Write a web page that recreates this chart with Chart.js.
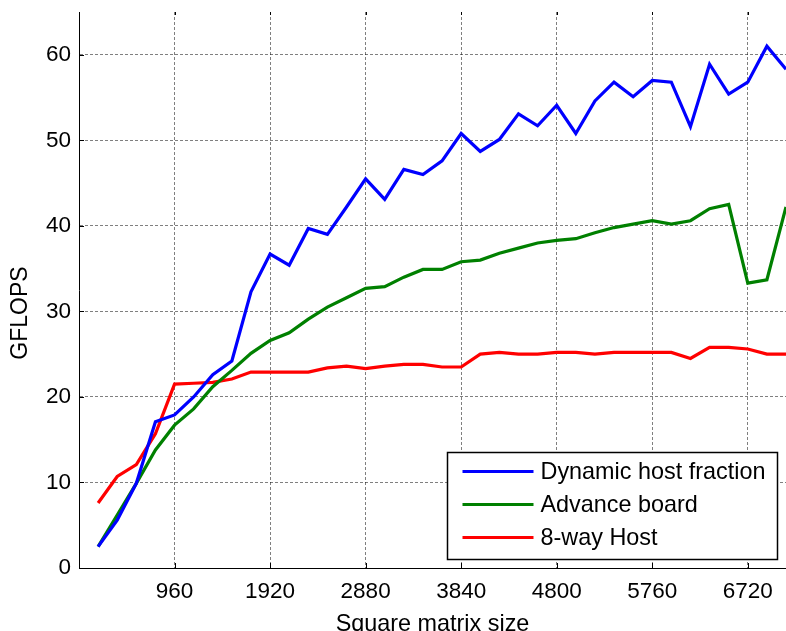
<!DOCTYPE html>
<html><head><meta charset="utf-8">
<script src="https://cdn.jsdelivr.net/npm/chart.js@4"></script>
<style>html,body{margin:0;padding:0;overflow:hidden;background:#fff;width:786px;height:631px}canvas{display:block}</style>
</head><body>
<canvas id="c" width="786" height="650"></canvas>
<script>
const matrixSizes = [192, 384, 576, 768, 960, 1152, 1344, 1536, 1728, 1920, 2112, 2304, 2496, 2688, 2880, 3072, 3264, 3456, 3648, 3840, 4032, 4224, 4416, 4608, 4800, 4992, 5184, 5376, 5568, 5760, 5952, 6144, 6336, 6528, 6720, 6912, 7104];
const dynamicHost = [2.5, 5.6, 9.9, 17.1, 17.9, 20.0, 22.6, 24.2, 32.3, 36.7, 35.4, 39.7, 39.0, 42.2, 45.5, 43.1, 46.6, 46.0, 47.6, 50.8, 48.7, 50.1, 53.1, 51.7, 54.1, 50.8, 54.6, 56.8, 55.1, 57.0, 56.8, 51.6, 58.9, 55.4, 56.8, 61.0, 58.3];
const advanceBoard = [2.5, 6.2, 9.9, 13.8, 16.7, 18.6, 21.2, 23.1, 25.1, 26.6, 27.5, 29.1, 30.5, 31.6, 32.7, 32.9, 34.0, 34.9, 34.9, 35.8, 36.0, 36.8, 37.4, 38.0, 38.3, 38.5, 39.2, 39.8, 40.2, 40.6, 40.2, 40.6, 42.0, 42.5, 33.3, 33.7, 42.2];
const eightWayHost = [7.6, 10.7, 12.1, 15.7, 21.5, 21.6, 21.7, 22.1, 22.9, 22.9, 22.9, 22.9, 23.4, 23.6, 23.3, 23.6, 23.8, 23.8, 23.5, 23.5, 25.0, 25.2, 25.0, 25.0, 25.2, 25.2, 25.0, 25.2, 25.2, 25.2, 25.2, 24.5, 25.8, 25.8, 25.6, 25.0, 25.0];
const xTicks = [960, 1920, 2880, 3840, 4800, 5760, 6720];
const yTicks = [0, 10, 20, 30, 40, 50, 60];
const seriesNames = ['Dynamic host fraction', 'Advance board', '8-way Host'];
const seriesColors = ['#0000ff', '#008000', '#ff0000'];
const xTitle = 'Square matrix size';
const yTitle = 'GFLOPS';

const FONT = "'Liberation Sans', Arial, Helvetica, sans-serif";
const toPoints = arr => matrixSizes.map((x, i) => ({x: x, y: arr[i]}));
const seriesValues = [dynamicHost, advanceBoard, eightWayHost];

const decorPlugin = {
  id: 'decor',
  afterDatasetsDraw(chart) {
    const ctx = chart.ctx;
    const ca = chart.chartArea;
    const xs = chart.scales.x, ys = chart.scales.y;
    ctx.save();
    // inward tick marks
    ctx.strokeStyle = '#000';
    ctx.lineWidth = 1;
    ctx.beginPath();
    yTicks.forEach(v => {
      const py = Math.round(ys.getPixelForValue(v)) + 0.5;
      ctx.moveTo(ca.left, py); ctx.lineTo(ca.left + 5, py);
    });
    xTicks.forEach(v => {
      const px = Math.round(xs.getPixelForValue(v)) + 0.5;
      ctx.moveTo(px, ca.bottom); ctx.lineTo(px, ca.bottom - 5);
      ctx.moveTo(px, ca.top); ctx.lineTo(px, ca.top + 3);
    });
    ctx.stroke();
    // y-axis title
    ctx.fillStyle = '#000';
    ctx.font = '23px ' + FONT;
    ctx.textAlign = 'center';
    ctx.textBaseline = 'middle';
    ctx.translate(20.5, (ca.top + ca.bottom) / 2 + 23);
    ctx.rotate(-Math.PI / 2);
    ctx.fillText(yTitle, 0, 0);
    ctx.restore();

    // legend box
    ctx.save();
    const w = 330, h = 107;
    const bx = Math.round(ca.right - 9 - w) + 0.5, by = Math.round(ca.bottom - 9 - h) + 0.5;
    ctx.fillStyle = '#fff';
    ctx.fillRect(bx, by, w, h);
    ctx.strokeStyle = '#000';
    ctx.lineWidth = 1.5;
    ctx.strokeRect(bx, by, w, h);
    ctx.font = '23.4px ' + FONT;
    ctx.textAlign = 'left';
    ctx.textBaseline = 'middle';
    chart.data.datasets.forEach((ds, i) => {
      const ry = by + 19 + i * 33;
      ctx.strokeStyle = ds.borderColor;
      ctx.lineWidth = 3;
      ctx.beginPath();
      ctx.moveTo(bx + 15, ry); ctx.lineTo(bx + 86, ry);
      ctx.stroke();
      ctx.fillStyle = '#000';
      ctx.fillText(ds.label, bx + 93, ry + 1);
    });
    ctx.restore();
  }
};

const noPad = s => { s.paddingTop = 0; s.paddingBottom = 0; s.paddingLeft = 0; s.paddingRight = 0; };

new Chart(document.getElementById('c'), {
  type: 'line',
  data: {
    datasets: seriesNames.map((name, i) => ({
      label: name,
      data: toPoints(seriesValues[i]),
      borderColor: seriesColors[i],
      backgroundColor: seriesColors[i],
      borderWidth: 3.2,
      pointRadius: 0,
      tension: 0,
      fill: false
    }))
  },
  options: {
    responsive: false,
    animation: false,
    devicePixelRatio: 1,
    layout: {padding: {top: 12, right: 0, left: 0, bottom: 0}},
    plugins: {legend: {display: false}, tooltip: {enabled: false}},
    scales: {
      x: {
        type: 'linear',
        min: 0, max: 7104,
        afterBuildTicks: s => { s.ticks = xTicks.map(v => ({value: v})); },
        afterFit: s => { s.height = 82; noPad(s); },
        ticks: {
          color: '#000', padding: 13, maxRotation: 0, autoSkip: false,
          font: {family: FONT, size: 22.5, lineHeight: 1},
          callback: v => String(v)
        },
        grid: {color: 'rgba(0,0,0,0.5)', drawTicks: false, lineWidth: 1},
        border: {display: true, color: '#000', width: 1, dash: [3, 2]},
        title: {display: true, text: xTitle, color: '#000', font: {family: FONT, size: 23.4, lineHeight: 1.2}, padding: {top: 0, bottom: 11}}
      },
      y: {
        min: 0, max: 65,
        afterBuildTicks: s => { s.ticks = yTicks.map(v => ({value: v})); },
        afterFit: s => { s.width = 79; noPad(s); },
        ticks: {
          color: '#000', padding: 8,
          font: {family: FONT, size: 22.5, lineHeight: 1}
        },
        grid: {color: 'rgba(0,0,0,0.5)', drawTicks: false, lineWidth: 1},
        border: {display: true, color: '#000', width: 1, dash: [3, 2]},
        title: {display: false}
      }
    }
  },
  plugins: [decorPlugin]
});
</script>
</body></html>
